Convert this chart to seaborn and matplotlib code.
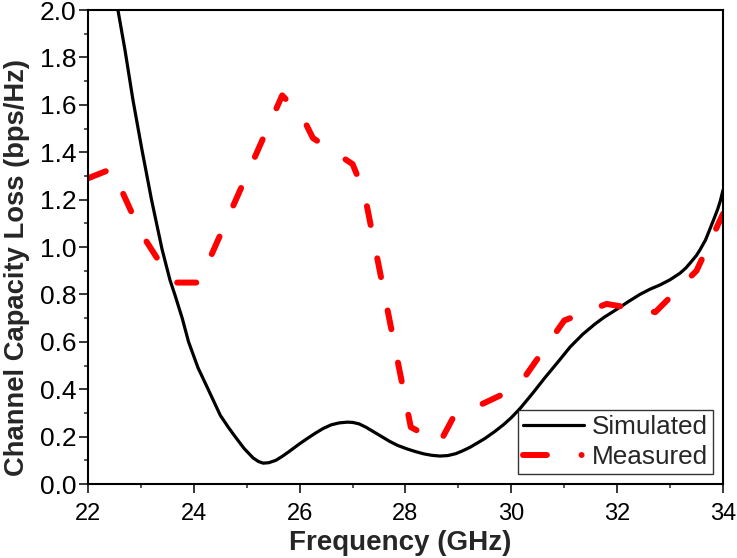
import pandas as pd
import seaborn as sns
import matplotlib.pyplot as plt
from matplotlib.lines import Line2D
from matplotlib.ticker import MultipleLocator

# simulated channel capacity loss
sim_freq = [22.55, 22.70, 22.85, 23.02, 23.20, 23.40, 23.55, 23.64, 23.78, 23.90,
            24.08, 24.27, 24.50, 24.65, 24.78, 24.95, 25.12, 25.22, 25.31, 25.42,
            25.55, 25.68, 25.80, 26.00, 26.15, 26.30, 26.45, 26.60, 26.75, 26.90,
            27.00, 27.12, 27.25, 27.40, 27.55, 27.70, 27.85, 28.03, 28.20, 28.35,
            28.50, 28.65, 28.80, 28.95, 29.08, 29.22, 29.35, 29.50, 29.69, 29.85,
            30.00, 30.17, 30.40, 30.64, 30.90, 31.11, 31.35, 31.58, 31.75, 31.92,
            32.08, 32.20, 32.43, 32.62, 32.81, 33.00, 33.19, 33.30, 33.40, 33.50,
            33.57, 33.67, 33.76, 33.84, 33.90, 33.95, 34.00]
sim_loss = [2.02, 1.83, 1.62, 1.41, 1.20, 0.99, 0.86, 0.80, 0.70, 0.60,
            0.49, 0.40, 0.29, 0.24, 0.20, 0.15, 0.11, 0.095, 0.088, 0.090,
            0.100, 0.118, 0.137, 0.170, 0.193, 0.215, 0.235, 0.250, 0.258, 0.261,
            0.260, 0.254, 0.240, 0.220, 0.200, 0.180, 0.163, 0.148, 0.136, 0.127,
            0.121, 0.118, 0.120, 0.128, 0.140, 0.155, 0.172, 0.192, 0.222, 0.250,
            0.280, 0.320, 0.382, 0.450, 0.520, 0.578, 0.632, 0.675, 0.703, 0.727,
            0.750, 0.768, 0.800, 0.822, 0.840, 0.862, 0.890, 0.912, 0.938, 0.965,
            0.990, 1.030, 1.080, 1.125, 1.160, 1.195, 1.240]

# measured channel capacity loss
meas_freq = [22.0, 22.45, 23.0, 23.6, 24.1, 25.67, 26.05, 26.25, 27.0, 27.22,
             28.1, 28.65, 28.9, 29.9, 30.28, 31.0, 31.8, 32.72, 33.5, 34.0]
meas_loss = [1.29, 1.33, 1.06, 0.85, 0.85, 1.64, 1.55, 1.46, 1.35, 1.23,
             0.24, 0.175, 0.28, 0.385, 0.46, 0.69, 0.76, 0.725, 0.90, 1.14]

sim = pd.DataFrame({"Frequency": sim_freq, "Loss": sim_loss})
meas = pd.DataFrame({"Frequency": meas_freq, "Loss": meas_loss})

sns.set_style("ticks")
plt.rcParams['font.family'] = ['Liberation Sans', 'DejaVu Sans']

fig = plt.figure(figsize=(7.37, 5.58), dpi=100)
ax = fig.add_axes([0.1194, 0.1326, 0.8616, 0.8494])

sns.lineplot(data=sim, x="Frequency", y="Loss", color="black", lw=2.3, ax=ax, errorbar=None)
sns.lineplot(data=meas, x="Frequency", y="Loss", color="red", lw=4.3, ax=ax, errorbar=None)
meas_line = ax.lines[-1]
meas_line.set_dashes((3.2, 5.7))
meas_line.set_dash_capstyle("round")

ax.set_xlim(22, 34)
ax.set_ylim(0, 2.0)
ax.xaxis.set_major_locator(MultipleLocator(2))
ax.xaxis.set_minor_locator(MultipleLocator(1))
ax.yaxis.set_major_locator(MultipleLocator(0.2))
ax.yaxis.set_minor_locator(MultipleLocator(0.1))
ax.yaxis.set_major_formatter(plt.FormatStrFormatter('%.1f'))

ax.tick_params(which="major", direction="out", length=6.5, width=1.1,
               colors="black")
ax.tick_params(which="minor", direction="out", length=3.2, width=1.1)
ax.tick_params(axis="x", which="major", pad=7, labelsize=17)
ax.tick_params(axis="y", which="major", pad=2, labelsize=19)
for s in ax.spines.values():
    s.set_linewidth(1.5)
    s.set_color("black")

ax.set_xlabel("Frequency (GHz)", fontsize=20, fontweight="bold")
ax.set_ylabel("Channel Capacity Loss (bps/Hz)", fontsize=19.7, fontweight="bold")
ax.xaxis.set_label_coords(0.491, -0.097)
ax.yaxis.set_label_coords(-0.092, 0.456)

# legend: solid line, and dash + dot for the measured curve
handles = [
    Line2D([], [], color="black", lw=2.3),
    Line2D([], [], color="red", lw=4.3, dashes=(4.0, 5.8, 0.01, 20), dash_capstyle="round"),
]
leg = ax.legend(handles, ["Simulated", "Measured"], loc="lower right",
                bbox_to_anchor=(0.985, 0.021), borderaxespad=0, fontsize=18.8,
                handlelength=2.35, handletextpad=0.3, labelspacing=0.22,
                borderpad=0.2, frameon=True, fancybox=False, edgecolor="black")
leg.get_frame().set_linewidth(1.0)

fig.savefig("out.png", dpi=100)
